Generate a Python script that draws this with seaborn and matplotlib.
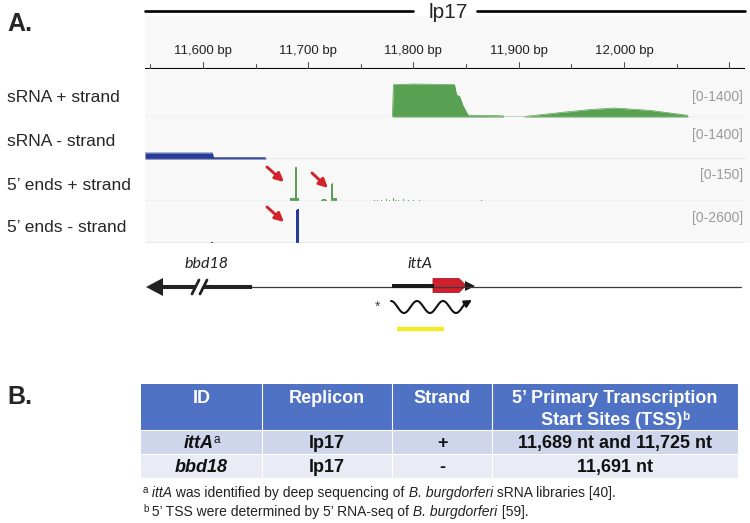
import numpy as np
import seaborn as sns
import matplotlib.pyplot as plt
from matplotlib.patches import Polygon, Rectangle
from matplotlib import font_manager

# ---- data -------------------------------------------------------------
ruler_ticks = [11550, 11600, 11650, 11700, 11750, 11800, 11850, 11900, 11950, 12000, 12050, 12100]
ruler_labels = ['11,600 bp', '11,700 bp', '11,800 bp', '11,900 bp', '12,000 bp']
ruler_label_pos = [11600, 11700, 11800, 11900, 12000]

track_names = ['sRNA + strand', 'sRNA - strand', '5\u2019 ends + strand', '5\u2019 ends - strand']
track_ranges = [1400, 1400, 150, 2600]

srna_plus_pos = [11780, 11781, 11800, 11820, 11839, 11841, 11844, 11847, 11852, 11885, 11886,
                 11905, 11906, 11940, 11968, 11991, 12025, 12060, 12061]
srna_plus_val = [0, 1080, 1100, 1090, 1080, 740, 680, 380, 60, 40, 0,
                 0, 20, 150, 250, 300, 220, 60, 0]

srna_minus_pos = [11545, 11609, 11610, 11659, 11660]
srna_minus_val = [200, 200, 50, 50, 0]

ends_plus_pos = [11683, 11684, 11685, 11686, 11687, 11688, 11689, 11690, 11691,
                 11713, 11714, 11715, 11716, 11717, 11722, 11723, 11724, 11725, 11726, 11727,
                 11763, 11766, 11770, 11774, 11777, 11781, 11783, 11786, 11791, 11795, 11800,
                 11806, 11865]
ends_plus_val = [11, 11, 12, 12, 12, 121, 120, 12, 10,
                 5, 7, 8, 7, 5, 62, 64, 11, 11, 11, 10,
                 4, 5, 4, 6, 4, 9, 5, 4, 7, 5, 4,
                 4, 4]

ends_minus_pos = [11608, 11609, 11689, 11690, 11691]
ends_minus_val = [60, 60, 2050, 2100, 2080]

table_cols = ['ID', 'Replicon', 'Strand']
table_tss_head = ['5\u2019 Primary Transcription', 'Start Sites (TSS)']
row_ids = ['ittA', 'bbd18']
row_id_sup = ['a', '']
row_replicon = ['lp17', 'lp17']
row_strand = ['+', '-']
row_tss = ['11,689 nt and 11,725 nt', '11,691 nt']

# ---- style ------------------------------------------------------------
sns.set_style('white')
plt.rcParams['font.family'] = ['Liberation Sans', 'DejaVu Sans']
names = {f.name for f in font_manager.fontManager.ttflist}
NARROW = 'Liberation Sans Narrow' if 'Liberation Sans Narrow' in names else 'Liberation Sans'
GENEFONT = 'Lato' if 'Lato' in names else 'DejaVu Sans'

GREEN = '#58a052'
BLUE = '#263c96'
RED = '#d2232a'

W, H = 750, 523
XMIN, XMAX = 11545, 12115
fig = plt.figure(figsize=(7.5, 5.23), dpi=100)


def px_rect(x0, y0, x1, y1):
    return [x0 / W, 1 - y1 / H, (x1 - x0) / W, (y1 - y0) / H]


ov = fig.add_axes([0, 0, 1, 1], zorder=0)
ov.set_xlim(0, W)
ov.set_ylim(H, 0)
ov.axis('off')

# panel A header
ov.text(7, 24, 'A.', fontsize=18, fontweight='bold', va='center')
ov.plot([145, 413], [11, 11], color='k', lw=1.9)
ov.plot([477, 745], [11, 11], color='k', lw=1.9)
ov.text(448, 13, 'lp17', fontsize=15, ha='center', va='center')
ov.add_patch(Rectangle((145, 16), 605, 227, color='#f8f8f8', lw=0))

# ruler
rax = fig.add_axes(px_rect(145, 17, 745, 69), zorder=1)
rax.set_xlim(XMIN, XMAX)
rax.set_ylim(0, 52)
rax.axis('off')
rax.axhline(0, color='k', lw=1.5)
for t in ruler_ticks:
    rax.plot([t, t], [0, 7 if t % 100 == 0 else 5], color='#555', lw=0.8)
for t, lab in zip(ruler_label_pos, ruler_labels):
    rax.text(t, 18, lab, fontsize=9.5, ha='center', va='center', color='#222')

# tracks
tops = [75, 117, 159, 201]
label_y = [97, 141, 185, 228]
range_y = [97, 135, 175, 218]
base_colors = ['#d3d3d3', '#98a0c8', '#d3d3d3', '#98a0c8']
axes = []
for i in range(4):
    ax = fig.add_axes(px_rect(145, tops[i], 745, tops[i] + 42), zorder=2)
    ax.patch.set_alpha(0)
    axes.append(ax)
    ov.text(7, label_y[i], track_names[i], fontsize=12.5, va='center')
    ov.text(743, range_y[i], '[0-%d]' % track_ranges[i], fontsize=10, ha='right',
            va='center', color='#9a9a9a')

ax = axes[0]
ax.fill_between(srna_plus_pos, srna_plus_val, color=GREEN, lw=0)
sns.lineplot(x=srna_plus_pos, y=srna_plus_val, ax=ax, color=GREEN, lw=0.5)
ax = axes[1]
ax.fill_between(srna_minus_pos, srna_minus_val, color=BLUE, lw=0)
sns.lineplot(x=srna_minus_pos, y=srna_minus_val, ax=ax, color=BLUE, lw=0.5)
sns.histplot(x=ends_plus_pos, weights=ends_plus_val, discrete=True, ax=axes[2],
             color=GREEN, alpha=1, lw=0)
sns.histplot(x=ends_minus_pos, weights=ends_minus_val, discrete=True, ax=axes[3],
             color=BLUE, alpha=1, lw=0)
for i, ax in enumerate(axes):
    ax.set_xlim(XMIN, XMAX)
    ax.set_ylim(0, track_ranges[i])
    ax.axhline(0, color=base_colors[i], lw=1.0)
    ax.axis('off')

# red arrows at the 5' ends
for (x0, y0, x1, y1) in [(267, 167, 284, 182), (312, 173, 328, 188), (267, 207, 284, 222)]:
    ov.annotate('', xy=(x1, y1), xytext=(x0, y0),
                arrowprops=dict(arrowstyle='-|>', color=RED, lw=2.1, mutation_scale=13,
                                shrinkA=0, shrinkB=0))

# gene schematic
ov.plot([250, 741], [287, 287], color='#3a3a3a', lw=0.9)
ov.plot([160, 252], [287, 287], color='#222', lw=2.9, solid_capstyle='butt')
ov.add_patch(Polygon([(146, 287), (163, 278), (163, 296)], color='#222', lw=0))
ov.plot([195, 203], [294, 280], color='white', lw=4)
ov.plot([192, 199], [294, 280], color='#222', lw=2)
ov.plot([200, 207], [294, 280], color='#222', lw=2)
ov.text(207, 264, 'bbd18', fontsize=11.5, style='italic', family=GENEFONT,
        ha='center', va='center', color='#222')

ov.plot([392, 434], [286, 286], color='#1a1a1a', lw=2.9, solid_capstyle='butt')
ov.add_patch(Polygon([(433, 278.5), (459, 278.5), (466, 285.5), (459, 292.5), (433, 292.5)],
                     facecolor='#d0202e', edgecolor='#b01a22', lw=0.6))
ov.add_patch(Polygon([(465, 281), (475, 286), (465, 291)], color='#1a1a1a', lw=0))
ov.text(420, 264, 'ittA', fontsize=11.5, style='italic', family=GENEFONT,
        ha='center', va='center', color='#222')
ov.text(378, 307, '*', fontsize=10, ha='center', va='center', color='#444')
xs = np.linspace(391, 467, 200)
ov.plot(xs, 307 - 6 * np.cos(2 * np.pi * (xs - 391) / 26), color='#111', lw=1.5)
ov.annotate('', xy=(472, 300), xytext=(465, 304),
            arrowprops=dict(arrowstyle='-|>', color='#111', lw=1.5, mutation_scale=11,
                            shrinkA=0, shrinkB=0))
ov.plot([397, 444], [329, 329], color='#f4ea2c', lw=3.2, solid_capstyle='butt')

# panel B: table
ov.text(7, 397, 'B.', fontsize=18, fontweight='bold', va='center')
col_x = [141, 262, 392, 492, 738]
row_y = [384, 430, 454, 478]
fills = ['#4f72c4', '#cfd5ea', '#e9ebf5']
for r in range(3):
    ov.add_patch(Rectangle((col_x[0], row_y[r]), col_x[-1] - col_x[0],
                           row_y[r + 1] - row_y[r], color=fills[r], lw=0))
for x in col_x[1:-1]:
    ov.plot([x, x], [row_y[0], row_y[-1]], color='white', lw=0.8)
for y in row_y[1:-1]:
    ov.plot([col_x[0], col_x[-1]], [y, y], color='white', lw=0.8)

renderer = fig.canvas.get_renderer()


def rich(x, y, pieces, ha='left', **base):
    texts = []
    for s, extra in pieces:
        kw = dict(base)
        kw.update({k: v for k, v in extra.items() if k != 'dy'})
        texts.append(ov.text(0, y + extra.get('dy', 0), s, va='baseline', **kw))
    widths = [t.get_window_extent(renderer).width for t in texts]
    x0 = x - sum(widths) / 2 if ha == 'center' else x
    for t, w in zip(texts, widths):
        t.set_x(x0)
        x0 += w


centers = [(col_x[i] + col_x[i + 1]) / 2 for i in range(4)]
hb = dict(family=NARROW, fontsize=13, fontweight='bold', color='white')
for c, name in zip(centers[:3], table_cols):
    ov.text(c, 403, name, ha='center', va='baseline', **hb)
ov.text(centers[3], 403, table_tss_head[0], ha='center', va='baseline', **hb)
rich(centers[3], 425, [(table_tss_head[1], {}), ('b', dict(fontsize=8.5, dy=-5))],
     ha='center', **hb)

cb = dict(family=NARROW, fontsize=13, fontweight='bold', color='#111')
for r, yb in enumerate([448, 472]):
    pieces = [(row_ids[r], dict(style='italic'))]
    if row_id_sup[r]:
        pieces.append((row_id_sup[r], dict(fontsize=8.5, fontweight='normal', dy=-5)))
    rich(centers[0], yb, pieces, ha='center', **cb)
    ov.text(centers[1], yb, row_replicon[r], ha='center', va='baseline', **cb)
    ov.text(centers[2], yb, row_strand[r], ha='center', va='baseline', **cb)
    ov.text(centers[3], yb, row_tss[r], ha='center', va='baseline', **cb)

fb = dict(family=NARROW, fontsize=10, color='#222')
rich(143, 497, [('a', dict(fontsize=7, dy=-4)), (' ittA', dict(style='italic')),
                (' was identified by deep sequencing of', {}),
                (' B. burgdorferi', dict(style='italic')),
                (' sRNA libraries [40].', {})], **fb)
rich(143, 516, [('b', dict(fontsize=7, dy=-4)),
                (' 5\u2019 TSS were determined by 5\u2019 RNA-seq of', {}),
                (' B. burgdorferi', dict(style='italic')), (' [59].', {})], **fb)

fig.savefig('out.png', dpi=100)
